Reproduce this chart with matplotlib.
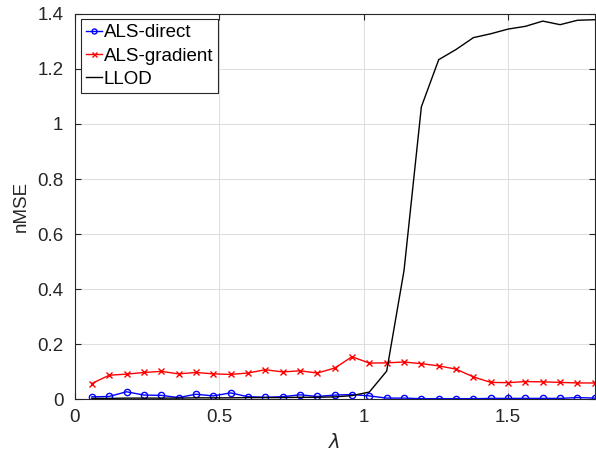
import matplotlib
matplotlib.use("Agg")
import matplotlib.pyplot as plt
import numpy as np

plt.rcParams['font.family'] = ['Liberation Sans', 'DejaVu Sans']
plt.rcParams['mathtext.fontset'] = 'dejavusans'

lam = [0.06 * k for k in range(1, 31)]

als_direct = [0.0095, 0.011, 0.028, 0.016, 0.015, 0.007, 0.019, 0.013, 0.024, 0.010,
              0.008, 0.010, 0.017, 0.011, 0.016, 0.018, 0.013, 0.005, 0.005, 0.003,
              0.003, 0.003, 0.003, 0.004, 0.004, 0.004, 0.004, 0.004, 0.007, 0.005]

als_gradient = [0.058, 0.088, 0.092, 0.098, 0.102, 0.093, 0.098, 0.093, 0.091, 0.096,
                0.108, 0.100, 0.104, 0.096, 0.114, 0.155, 0.132, 0.133, 0.136, 0.130,
                0.122, 0.110, 0.082, 0.062, 0.061, 0.065, 0.064, 0.062, 0.060, 0.060]

llod = [0.004, 0.004, 0.005, 0.005, 0.005, 0.005, 0.006, 0.006, 0.006, 0.007,
        0.007, 0.007, 0.008, 0.008, 0.0095, 0.014, 0.027, 0.103, 0.468, 1.062,
        1.233, 1.270, 1.313, 1.327, 1.344, 1.354, 1.373, 1.360, 1.376, 1.378]

fig = plt.figure(figsize=(5.96, 4.55), dpi=100)
ax = fig.add_axes([0.125, 0.122, 0.873, 0.848])

ax.plot(lam, als_direct, color='blue', marker='o', markersize=4.5, markerfacecolor='none',
        markeredgewidth=1.0, linewidth=1.0, label='ALS-direct')
ax.plot(lam, als_gradient, color='red', marker='x', markersize=4.5, markeredgewidth=1.0,
        linewidth=1.0, label='ALS-gradient')
ax.plot(lam, llod, color='black', linewidth=1.0, label='LLOD')

ax.set_xlim(0, 1.8)
ax.set_ylim(0, 1.4)
ax.set_xticks([0, 0.5, 1, 1.5])
ax.set_xticklabels(['0', '0.5', '1', '1.5'])
ax.set_yticks([0, 0.2, 0.4, 0.6, 0.8, 1.0, 1.2, 1.4])
ax.set_yticklabels(['0', '0.2', '0.4', '0.6', '0.8', '1', '1.2', '1.4'])
ax.grid(True, color='#dfdfdf', linewidth=0.8)
ax.set_axisbelow(True)
ax.tick_params(direction='in', top=True, right=True, labelsize=13.5, length=4,
               color='#262626', labelcolor='#262626')
ax.tick_params(axis='x', pad=7)
ax.tick_params(axis='y', pad=8)
for s in ax.spines.values():
    s.set_color('#262626')
    s.set_linewidth(0.8)

ax.set_xlabel(r'$\lambda$', fontsize=14, color='#262626', labelpad=5)
ax.set_ylabel('nMSE', fontsize=13.5, color='#262626', labelpad=5)

leg = ax.legend(loc='upper left', bbox_to_anchor=(0.013, 0.985), fontsize=13.5,
                frameon=True, fancybox=False, edgecolor='#262626', framealpha=1,
                handlelength=0.85, handletextpad=0.1, borderpad=0.25, labelspacing=0.33,
                borderaxespad=0.0, markerscale=0.8)
leg.get_frame().set_linewidth(0.8)

fig.savefig('out.png', dpi=100)
